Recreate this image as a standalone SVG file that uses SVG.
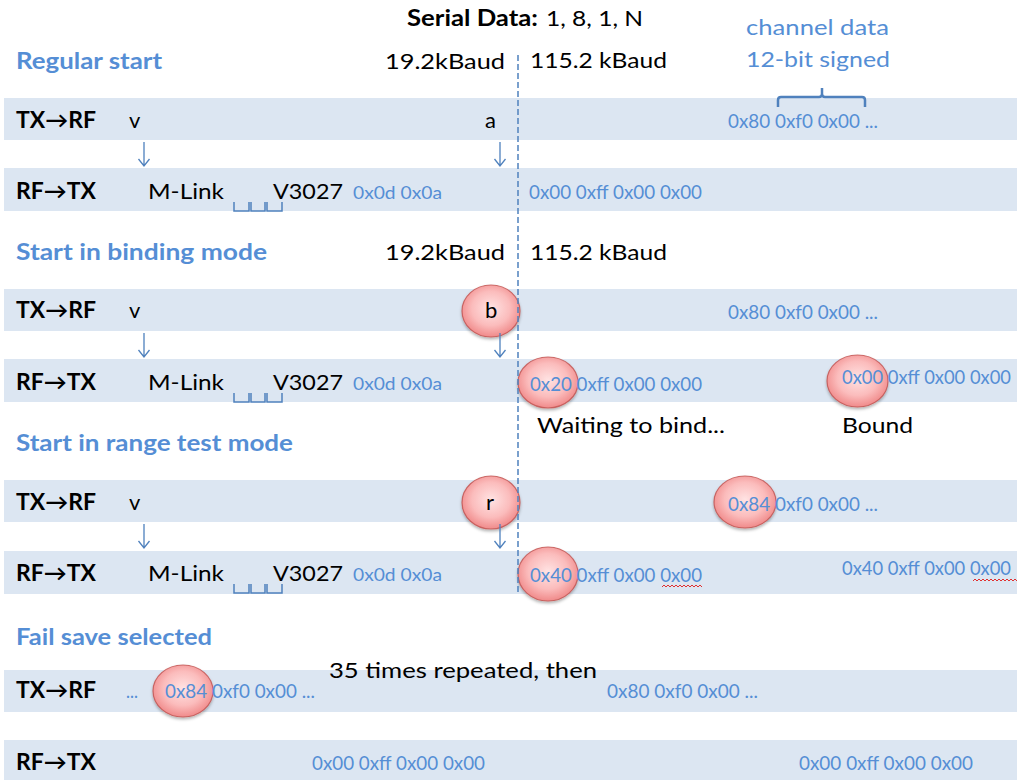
<svg xmlns="http://www.w3.org/2000/svg" width="1017" height="780" viewBox="0 0 1017 780">
<defs>
<radialGradient id="pink" cx="50%" cy="45%" r="55%">
<stop offset="0" stop-color="#ffe3e3"/>
<stop offset="0.6" stop-color="#fbbcbc"/>
<stop offset="1" stop-color="#f08a8a"/>
</radialGradient>
<filter id="sh" x="-20%" y="-20%" width="140%" height="150%">
<feDropShadow dx="0" dy="2" stdDeviation="1.5" flood-color="#000" flood-opacity="0.3"/>
</filter>
<path id="spc" d="M0,0 v9 h15 v-9 M17,0 v9 h14 v-9 M33,0 v9 h15 v-9"/>
</defs>
<style>
text{font-family:Lato,"Liberation Sans",sans-serif;}
.band{fill:#dce6f2;}
.lbl{font-size:22px;font-weight:bold;fill:#000;}
.hd{font-size:22px;font-weight:bold;fill:#558ed5;}
.t{font-size:22px;fill:#000;}
.hx{font-size:19.5px;fill:#558ed5;}
.hxr{font-size:18.5px;fill:#558ed5;}
.hs{font-size:17px;fill:#558ed5;}
.bl{font-size:22px;fill:#558ed5;}
.arr{fill:none;stroke:#4f81bd;stroke-width:1.3;}
.dash{fill:none;stroke:#4f81bd;stroke-width:1.5;stroke-dasharray:6 3;}
.sp{fill:none;stroke:#4f81bd;stroke-width:1.5;}
.ell{fill:url(#pink);stroke:#c0504d;stroke-opacity:0.8;stroke-width:1.2;filter:url(#sh);}
.wave{fill:none;stroke:#e03030;stroke-width:1;}
.brace{fill:none;stroke:#4f81bd;stroke-width:2.5;stroke-linejoin:round;}
</style>

<g id="bands">
<rect class="band" x="4" y="98" width="1013" height="42"/>
<rect class="band" x="4" y="168" width="1013" height="43"/>
<rect class="band" x="4" y="289" width="1013" height="42"/>
<rect class="band" x="4" y="359" width="1013" height="43"/>
<rect class="band" x="4" y="480" width="1013" height="42"/>
<rect class="band" x="4" y="551" width="1013" height="43"/>
<rect class="band" x="4" y="670" width="1013" height="42"/>
<rect class="band" x="4" y="740" width="1013" height="40"/>
</g>

<g id="header">
<text x="407" y="26" class="lbl" font-size="21" textLength="131" lengthAdjust="spacingAndGlyphs">Serial Data:</text>
<text x="546" y="26" class="t" font-size="21" textLength="97" lengthAdjust="spacingAndGlyphs">1, 8, 1, N</text>
<text x="746" y="35" class="bl" textLength="143" lengthAdjust="spacingAndGlyphs">channel data</text>
<text x="746" y="67" class="bl" textLength="144" lengthAdjust="spacingAndGlyphs">12-bit signed</text>
<path class="brace" d="M778,107 v-7 q0,-3 3,-3 h38 q3,0 3,-3 v-6 M822,94 q0,3 3,3 h37 q3,0 3,3 v7"/>
</g>

<g id="regular-start">
<text x="16" y="69" class="hd" textLength="146" lengthAdjust="spacingAndGlyphs">Regular start</text>
<text x="385" y="69" class="t" textLength="120" lengthAdjust="spacingAndGlyphs">19.2kBaud</text>
<text x="530" y="68" class="t" textLength="137" lengthAdjust="spacingAndGlyphs">115.2 kBaud</text>
<text x="16" y="128" class="lbl" textLength="80" lengthAdjust="spacingAndGlyphs">TX→RF</text>
<text x="129" y="128" class="t">v</text>
<text x="485" y="128" class="t">a</text>
<text x="728" y="128" class="hx" textLength="150" lengthAdjust="spacingAndGlyphs">0x80 0xf0 0x00 ...</text>
<text x="16" y="199" class="lbl" textLength="80" lengthAdjust="spacingAndGlyphs">RF→TX</text>
<text x="148" y="199" class="t" textLength="76" lengthAdjust="spacingAndGlyphs">M-Link</text>
<text x="273" y="199" class="t" textLength="70" lengthAdjust="spacingAndGlyphs">V3027</text>
<text x="353" y="199" class="hs" textLength="89" lengthAdjust="spacingAndGlyphs">0x0d 0x0a</text>
<use href="#spc" x="234" y="202" class="sp"/>
<text x="529" y="199" class="hx" textLength="173" lengthAdjust="spacingAndGlyphs">0x00 0xff 0x00 0x00</text>
</g>

<g id="binding-mode">
<text x="16" y="260" class="hd" textLength="251" lengthAdjust="spacingAndGlyphs">Start in binding mode</text>
<text x="385" y="260" class="t" textLength="120" lengthAdjust="spacingAndGlyphs">19.2kBaud</text>
<text x="530" y="260" class="t" textLength="137" lengthAdjust="spacingAndGlyphs">115.2 kBaud</text>
<text x="16" y="318" class="lbl" textLength="80" lengthAdjust="spacingAndGlyphs">TX→RF</text>
<text x="129" y="318" class="t">v</text>
<g id="node-b">
<ellipse class="ell" cx="491" cy="311" rx="29" ry="26"/>
<text x="485" y="318" class="t">b</text>
</g>
<text x="728" y="319" class="hx" textLength="150" lengthAdjust="spacingAndGlyphs">0x80 0xf0 0x00 ...</text>
<text x="16" y="390" class="lbl" textLength="80" lengthAdjust="spacingAndGlyphs">RF→TX</text>
<text x="148" y="390" class="t" textLength="76" lengthAdjust="spacingAndGlyphs">M-Link</text>
<text x="273" y="390" class="t" textLength="70" lengthAdjust="spacingAndGlyphs">V3027</text>
<text x="353" y="390" class="hs" textLength="89" lengthAdjust="spacingAndGlyphs">0x0d 0x0a</text>
<use href="#spc" x="234" y="393" class="sp"/>
<ellipse id="node-0x20" class="ell" cx="548" cy="382.5" rx="30" ry="25.5"/>
<text x="530" y="391" class="hx" textLength="172" lengthAdjust="spacingAndGlyphs">0x20 0xff 0x00 0x00</text>
<ellipse id="node-0x00" class="ell" cx="857.5" cy="381" rx="30.5" ry="26"/>
<text x="842" y="384" class="hxr" textLength="169" lengthAdjust="spacingAndGlyphs">0x00 0xff 0x00 0x00</text>
<text x="537" y="433" class="t" textLength="188" lengthAdjust="spacingAndGlyphs">Waiting to bind...</text>
<text x="842" y="433" class="t" textLength="71" lengthAdjust="spacingAndGlyphs">Bound</text>
</g>

<g id="range-test-mode">
<text x="16" y="451" class="hd" textLength="277" lengthAdjust="spacingAndGlyphs">Start in range test mode</text>
<text x="16" y="510" class="lbl" textLength="80" lengthAdjust="spacingAndGlyphs">TX→RF</text>
<text x="129" y="510" class="t">v</text>
<g id="node-r">
<ellipse class="ell" cx="491" cy="502.5" rx="29" ry="26.5"/>
<text x="486" y="510" class="t">r</text>
</g>
<ellipse id="node-0x84a" class="ell" cx="745" cy="502" rx="31" ry="26"/>
<text x="728" y="511" class="hx" textLength="150" lengthAdjust="spacingAndGlyphs">0x84 0xf0 0x00 ...</text>
<text x="16" y="581" class="lbl" textLength="80" lengthAdjust="spacingAndGlyphs">RF→TX</text>
<text x="148" y="581" class="t" textLength="76" lengthAdjust="spacingAndGlyphs">M-Link</text>
<text x="273" y="581" class="t" textLength="70" lengthAdjust="spacingAndGlyphs">V3027</text>
<text x="353" y="581" class="hs" textLength="89" lengthAdjust="spacingAndGlyphs">0x0d 0x0a</text>
<use href="#spc" x="234" y="584" class="sp"/>
<ellipse id="node-0x40" class="ell" cx="548" cy="574" rx="30" ry="27"/>
<text x="530" y="582" class="hx" textLength="172" lengthAdjust="spacingAndGlyphs">0x40 0xff 0x00 0x00</text>
<path class="wave" d="M662,587 l2,-2 l2,2 l2,-2 l2,2 l2,-2 l2,2 l2,-2 l2,2 l2,-2 l2,2 l2,-2 l2,2 l2,-2 l2,2 l2,-2 l2,2 l2,-2 l2,2 l2,-2 l2,2"/>
<text x="842" y="575" class="hxr" textLength="169" lengthAdjust="spacingAndGlyphs">0x40 0xff 0x00 0x00</text>
<path class="wave" d="M973,581 l2,-2 l2,2 l2,-2 l2,2 l2,-2 l2,2 l2,-2 l2,2 l2,-2 l2,2 l2,-2 l2,2 l2,-2 l2,2 l2,-2 l2,2 l2,-2 l2,2 l2,-2 l2,2 l2,-2 l2,2"/>
</g>

<g id="fail-save">
<text x="16" y="645" class="hd" textLength="196" lengthAdjust="spacingAndGlyphs">Fail save selected</text>
<text x="329" y="678" class="t" textLength="268" lengthAdjust="spacingAndGlyphs">35 times repeated, then</text>
<text x="16" y="698" class="lbl" textLength="80" lengthAdjust="spacingAndGlyphs">TX→RF</text>
<text x="126" y="698" class="hx" textLength="12" lengthAdjust="spacingAndGlyphs">...</text>
<ellipse id="node-0x84b" class="ell" cx="183" cy="691" rx="30" ry="26"/>
<text x="165" y="698" class="hx" textLength="150" lengthAdjust="spacingAndGlyphs">0x84 0xf0 0x00 ...</text>
<text x="607" y="698" class="hx" textLength="151" lengthAdjust="spacingAndGlyphs">0x80 0xf0 0x00 ...</text>
<text x="16" y="770" class="lbl" textLength="80" lengthAdjust="spacingAndGlyphs">RF→TX</text>
<text x="312" y="770" class="hx" textLength="173" lengthAdjust="spacingAndGlyphs">0x00 0xff 0x00 0x00</text>
<text x="799" y="770" class="hx" textLength="174" lengthAdjust="spacingAndGlyphs">0x00 0xff 0x00 0x00</text>
</g>

<g id="connectors">
<path class="dash" d="M518,55 V594"/>
<path class="arr" d="M144,142 V166 M138.5,159 L144,166 L149.5,159"/>
<path class="arr" d="M500,142 V166 M494.5,159 L500,166 L505.5,159"/>
<path class="arr" d="M144,333 V357 M138.5,350 L144,357 L149.5,350"/>
<path class="arr" d="M500,333 V357 M494.5,350 L500,357 L505.5,350"/>
<path class="arr" d="M144,524 V548 M138.5,541 L144,548 L149.5,541"/>
<path class="arr" d="M500,524 V548 M494.5,541 L500,548 L505.5,541"/>
</g>
</svg>
